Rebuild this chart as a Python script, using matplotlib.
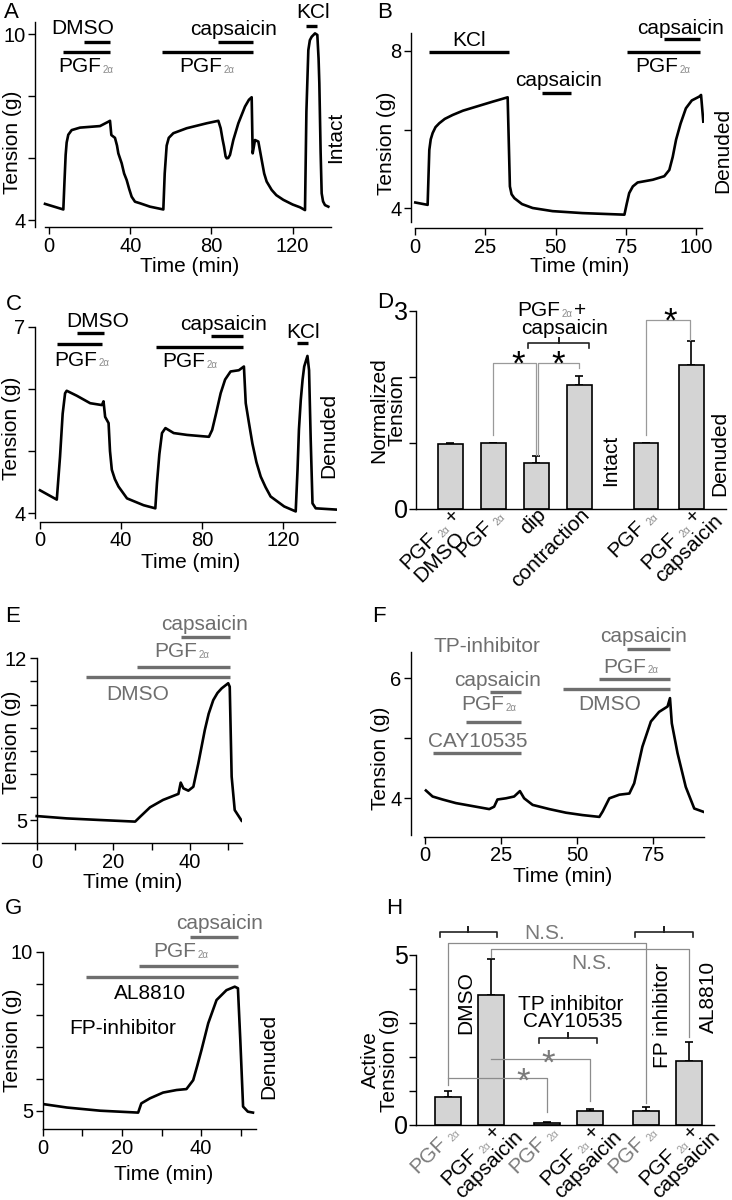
import matplotlib.pyplot as plt
import matplotlib.transforms as mtransforms
from matplotlib.lines import Line2D
import numpy as np

plt.rcParams['font.family'] = ['Liberation Sans', 'DejaVu Sans']
plt.rcParams['mathtext.fontset'] = 'custom'
plt.rcParams['mathtext.rm'] = 'Liberation Sans'
plt.rcParams['mathtext.it'] = 'Liberation Sans:italic'
plt.rcParams['mathtext.default'] = 'regular'
plt.rcParams['axes.linewidth'] = 1.0

# ---------------- data ----------------
# A  intact ring: (time min, tension g)
a_trace = [(-1.97, 4.52), (7.06, 4.34), (7.6, 5.2), (8.2, 6.1), (8.7, 6.5), (9.5, 6.75),
           (11.17, 6.9), (15.27, 6.98), (25.12, 7.03), (29.23, 7.17), (30.05, 7.2), (30.71, 6.74),
           (32.5, 6.65), (33.5, 6.4), (34.15, 6.15), (35.8, 5.83), (37.0, 5.5), (38.26, 5.29),
           (39.5, 5.0), (40.72, 4.75), (42.36, 4.59), (44.83, 4.54), (49.75, 4.43), (56.32, 4.34),
           (57.0, 5.5), (57.96, 6.4), (59.0, 6.65), (61.25, 6.8), (67.82, 6.96), (77.67, 7.12),
           (83.42, 7.2), (84.56, 6.96), (85.5, 6.6), (86.21, 6.37), (87.0, 6.05), (87.52, 5.99),
           (88.3, 6.0), (89.16, 6.1), (90.8, 6.58), (93.27, 7.12), (96.55, 7.66), (98.5, 7.88),
           (99.84, 7.96), (100.33, 6.15), (101.48, 6.58), (103.12, 6.53), (104.76, 5.94),
           (106.0, 5.5), (107.22, 5.24), (109.69, 4.97), (112.0, 4.8), (115.44, 4.65),
           (120.0, 4.5), (123.65, 4.41), (126.11, 4.32), (126.8, 7.5), (127.75, 9.48),
           (128.5, 9.8), (129.39, 9.91), (131.03, 10.02), (132.18, 9.97), (132.8, 9.2),
           (133.17, 8.41), (133.8, 6.2), (134.32, 4.86), (135.0, 4.6), (135.96, 4.48),
           (137.6, 4.43)]
a_drugs = [('DMSO', 17, 30), ('PGF', 6.7, 30), ('PGF', 55.8, 100.6),
           ('capsaicin', 83.4, 100.6), ('KCl', 126.6, 131.8)]

# B  denuded ring
b_trace = [(0, 4.14), (4.39, 4.08), (4.99, 5.48), (5.5, 5.75), (6.18, 5.91), (7.2, 6.06),
           (8.55, 6.16), (10.5, 6.27), (13.3, 6.37), (17.0, 6.48), (21.6, 6.58), (27.6, 6.71),
           (32.9, 6.82), (33.7, 4.55), (34.3, 4.35), (35.3, 4.25), (38.0, 4.1), (41.8, 4.0),
           (48.9, 3.92), (59.6, 3.87), (74.5, 3.83), (75.3, 4.1), (76.2, 4.38), (77.5, 4.55),
           (79.2, 4.65), (84.6, 4.72), (88.7, 4.81), (90.5, 4.97), (91.7, 5.3), (92.9, 5.74),
           (94.5, 6.15), (96.4, 6.54), (98.5, 6.74), (101.2, 6.84), (101.8, 6.88), (102.6, 6.2)]
b_drugs = [('KCl', 5.0, 33.5), ('capsaicin', 45.1, 55.5), ('PGF', 75.4, 101.5),
           ('capsaicin', 88.5, 101.5)]

# C  denuded ring
c_trace = [(0, 4.37), (8.3, 4.22), (9.9, 4.91), (11.2, 5.6), (12.4, 5.93), (13.2, 5.97),
           (18.2, 5.89), (24.8, 5.77), (30.6, 5.74), (31.4, 5.8), (32.2, 5.55), (33.9, 5.45),
           (34.6, 5.0), (35.5, 4.7), (37.0, 4.55), (38.8, 4.43), (43.0, 4.24), (51.2, 4.13),
           (57.0, 4.08), (57.8, 4.48), (59.0, 4.95), (60.3, 5.29), (62.0, 5.37), (66.1, 5.29),
           (72.7, 5.26), (83.5, 5.23), (85.1, 5.34), (87.0, 5.6), (89.3, 5.93), (91.5, 6.15),
           (94.2, 6.28), (98.3, 6.3), (100.8, 6.36), (101.7, 5.77), (103.3, 5.45), (105.0, 5.12),
           (107.0, 4.82), (109.1, 4.59), (111.5, 4.42), (114.0, 4.27), (120.7, 4.11),
           (126.4, 4.03), (127.3, 4.7), (128.0, 5.35), (128.9, 5.82), (129.8, 6.15),
           (130.6, 6.36), (132.2, 6.53), (133.0, 6.3), (133.8, 5.2), (134.7, 4.16),
           (136.3, 4.08), (146.3, 4.06)]
c_drugs = [('DMSO', 18.5, 31.7), ('PGF', 8.3, 30.6), ('PGF', 57.2, 100.5),
           ('capsaicin', 84.3, 100.5), ('KCl', 127, 132.6)]

# D  normalized tension
d_labels = ['PGF2α +\nDMSO', 'PGF2α', 'dip', 'contraction', 'PGF2α', 'PGF2α +\ncapsaicin']
d_mean = [0.985, 1.0, 0.69, 1.88, 1.0, 2.18]
d_err = [0.01, 0.0, 0.11, 0.135, 0.0, 0.355]

# E  DMSO control, denuded
e_trace = [(0, 5.17), (7.8, 5.07), (16.5, 5.0), (25.7, 4.93), (27.0, 5.14), (29.6, 5.55),
           (33.0, 5.87), (37.0, 6.13), (37.6, 6.62), (38.3, 6.37), (39.6, 6.27), (40.9, 6.44),
           (42.2, 7.45), (43.9, 8.9), (44.9, 9.6), (46.1, 10.19), (47.2, 10.5), (48.3, 10.7),
           (50.0, 10.92), (50.4, 10.77), (50.9, 6.88), (51.7, 5.43), (53.5, 4.97)]
e_drugs = [('DMSO', 13, 50.4), ('PGF', 26.1, 50.4), ('capsaicin', 37.6, 50.4)]

# F  TP inhibitor
f_trace = [(0.2, 4.13), (2.4, 4.03), (5.7, 3.98), (10.1, 3.92), (13.4, 3.89), (16.7, 3.86),
           (21.1, 3.82), (22.7, 3.86), (23.8, 3.98), (26.6, 4.0), (29.3, 4.03), (31.2, 4.12),
           (32.6, 4.0), (35.4, 3.89), (40.9, 3.82), (46.4, 3.76), (51.9, 3.72), (57.4, 3.69),
           (58.5, 3.78), (60.7, 4.0), (64.0, 4.06), (67.3, 4.08), (68.9, 4.25), (71.6, 4.86),
           (74.4, 5.28), (77.1, 5.44), (79.9, 5.53), (80.7, 5.67), (81.3, 5.25), (83.2, 4.75),
           (85.9, 4.19), (88.7, 3.83), (93.1, 3.75)]
f_drugs = [('CAY10535', 2.4, 31.5), ('PGF', 13.4, 31.5), ('capsaicin', 21.3, 31.5),
           ('DMSO', 45.3, 80.7), ('PGF', 57.4, 80.7), ('capsaicin', 66.4, 80.7)]

# G  FP inhibitor
g_trace = [(0, 5.21), (6.1, 5.1), (14.5, 5.0), (24.1, 4.94), (24.9, 5.23), (27.1, 5.39),
           (30.4, 5.57), (33.8, 5.65), (36.3, 5.68), (38.0, 5.96), (39.0, 6.4), (40.1, 6.91),
           (41.8, 7.75), (43.9, 8.48), (46.4, 8.79), (48.5, 8.9), (49.3, 8.85), (49.9, 7.22),
           (50.6, 5.13), (51.8, 4.97), (53.1, 4.94)]
g_drugs = [('AL8810', 10.9, 49.3), ('PGF', 24.4, 49.3), ('capsaicin', 37.3, 49.3)]

# H  active tension
h_labels = ['PGF2α', 'PGF2α +\ncapsaicin'] * 3
h_mean = [0.83, 3.82, 0.07, 0.42, 0.42, 1.88]
h_err = [0.17, 1.05, 0.01, 0.06, 0.10, 0.57]

# ---------------- layout ----------------
W, H = 732, 1200
FS = 15
GREY = '#6e6e6e'
fig = plt.figure(figsize=(W / 100, H / 100), dpi=100)
PX = mtransforms.Affine2D().scale(1, -1).translate(0, H)
renderer = fig.canvas.get_renderer()


def px_text(x, y, s, **kw):
    kw.setdefault('fontsize', FS)
    kw.setdefault('ha', 'center')
    kw.setdefault('va', 'center')
    return fig.text(x, y, s, transform=PX, **kw)


def trace_axes(xz, xs, yz, yref, ys, xlim, ylim):
    x0 = xz + xs * xlim[0]
    x1 = xz + xs * xlim[1]
    yt = yz - ys * (ylim[1] - yref)
    yb = yz - ys * (ylim[0] - yref)
    ax = fig.add_axes([x0 / W, 1 - yb / H, (x1 - x0) / W, (yb - yt) / H])
    ax.set_xlim(xlim)
    ax.set_ylim(ylim)
    ax.spines[['top', 'right']].set_visible(False)
    ax.tick_params(direction='out', length=5, width=1, labelsize=14.5, pad=2)
    ax.patch.set_alpha(0)
    return ax


def drug_bar(ax, t0, t1, y, color='k'):
    tr = mtransforms.blended_transform_factory(ax.transData, PX)
    ax.plot([t0, t1], [y, y], color=color, lw=2.4, transform=tr,
            clip_on=False, solid_capstyle='butt')


def pgf_label(ax, x, y, color='k', plus=False):
    t = px_text(x, y, 'PGF', color=color)
    ax.annotate('2α', xy=(1, 0), xycoords=t, xytext=(1, 1), textcoords='offset points',
                fontsize=7, color='#8a8a8a', ha='left', va='bottom', annotation_clip=False)
    if plus:
        ax.annotate('+', xy=(1, 0.55), xycoords=t, xytext=(10, 0), textcoords='offset points',
                    fontsize=FS, color=color, ha='left', va='center', annotation_clip=False)


def star(x, y, color='k', size=25):
    px_text(x, y + 0.57 * size * 100 / 72, '*', fontsize=size, va='baseline', color=color)


def brace(x0, x1, y, color='#222222', d=5):
    xm = (x0 + x1) / 2
    fig.add_artist(Line2D([x0, x0, xm, xm, xm, x1, x1], [y + d, y, y, y - d, y, y, y + d],
                          transform=PX, color=color, lw=1.2))


def trace(ax, pts):
    t, v = zip(*pts)
    ax.plot(t, v, color='k', lw=1.9, solid_joinstyle='round')


def text_width(s, size):
    tmp = fig.text(0, 0, s, fontsize=size)
    w = tmp.get_window_extent(renderer=renderer).width
    tmp.remove()
    return w


def line_parts(line, color, sub_color):
    # (text, size, color, shift down, gap before)
    if line.startswith('PGF2α'):
        parts = [('PGF', FS, color, 0, 0), ('2α', 7.5, sub_color, 2.5, 4)]
        rest = line[len('PGF2α'):].strip()
        if rest:
            parts.append((rest, FS, color, 0, 5))
        return parts
    return [(line, FS, color, 0, 0)]


def rot_ticklabels(ax, positions, labels, colors, sub_color, dx=11, dy=7, pitch=19):
    ang = np.deg2rad(45)
    ca, sa = np.cos(ang), np.sin(ang)
    for p, lab, col in zip(positions, labels, colors):
        xd, yd = ax.transData.transform((p, 0))
        rx, ry = xd + dx, (H - yd) + dy
        lines = lab.split('\n')
        first = line_parts(lines[0], col, sub_color)
        w1 = sum(g + text_width(t, s) for t, s, c, sh, g in first)
        sx, sy = rx - w1 * ca, ry + w1 * sa
        for k, line in enumerate(lines):
            bx, by = sx + k * pitch * sa, sy + k * pitch * ca
            off = 0
            for t, s, c, sh, g in line_parts(line, col, sub_color):
                off += g
                fig.text(bx + off * ca + sh * sa, by - off * sa + sh * ca, t, fontsize=s,
                         color=c, rotation=45, rotation_mode='anchor', ha='left',
                         va='baseline', transform=PX)
                off += text_width(t, s)


# ---------------- A ----------------
ax = trace_axes(49, 2.03, 220, 4, 31, (-6.9, 140), (3.77, 10.4))
trace(ax, a_trace)
ax.spines['bottom'].set_bounds(-2, 139)
ax.set_yticks([4, 6, 8, 10], ['4', '', '', '10'])
ax.set_xticks([0, 40, 80, 120])
for (name, t0, t1), y in zip(a_drugs, [41.7, 51.7, 51.7, 41.7, 25.7]):
    drug_bar(ax, t0, t1, y)
px_text(82.3, 28.3, 'DMSO')
pgf_label(ax, 79.3, 66.7)
px_text(233.3, 29.3, 'capsaicin')
pgf_label(ax, 200.7, 66.7)
px_text(313, 12.5, 'KCl')
px_text(336, 137.3, 'Intact', rotation=90)
px_text(13, 142, 'Tension (g)', rotation=90)
px_text(190, 267, 'Time (min)')
px_text(11, 13, 'A', fontsize=16)

# ---------------- B ----------------
ax = trace_axes(415.3, 2.807, 208, 4, 39.25, (-1.53, 103), (3.49, 8.45))
trace(ax, b_trace)
ax.spines['bottom'].set_bounds(0, 102)
ax.spines['left'].set_bounds(3.65, 8.45)
ax.set_yticks([4, 6, 8], ['4', '', '8'])
ax.set_xticks([0, 25, 50, 75, 100])
for (name, t0, t1), y in zip(b_drugs, [51.7, 92.7, 51.7, 39.3]):
    drug_bar(ax, t0, t1, y)
px_text(469.3, 40, 'KCl')
px_text(558.3, 80.7, 'capsaicin')
px_text(681, 28.3, 'capsaicin')
pgf_label(ax, 656.7, 66.7)
px_text(722.7, 150, 'Denuded', rotation=90)
px_text(386, 143, 'Tension (g)', rotation=90)
px_text(580, 267, 'Time (min)')
px_text(385, 12, 'B', fontsize=16)

# ---------------- C ----------------
ax = trace_axes(40, 2.023, 513.3, 4, 62.2, (-2.47, 147), (3.865, 7.03))
trace(ax, c_trace)
ax.spines['bottom'].set_bounds(0, 146)
ax.spines['left'].set_bounds(3.92, 7.0)
ax.set_yticks([4, 5, 6, 7], ['4', '', '', '7'])
ax.set_xticks([0, 40, 80, 120])
for (name, t0, t1), y in zip(c_drugs, [332.7, 344, 347.3, 336, 343.3]):
    drug_bar(ax, t0, t1, y)
px_text(97.3, 321.7, 'DMSO')
pgf_label(ax, 75.7, 360)
px_text(223.3, 325, 'capsaicin')
pgf_label(ax, 184, 361.7)
px_text(303, 332.3, 'KCl')
px_text(329, 435, 'Denuded', rotation=90)
px_text(12, 428, 'Tension (g)', rotation=90)
px_text(191, 563, 'Time (min)')
px_text(14, 304, 'C', fontsize=16)

# ---------------- D ----------------
d_pos = [0, 1, 2, 3, 4.55, 5.6]
axd = fig.add_axes([416 / W, 1 - 509 / H, (726 - 416) / W, (509 - 310.7) / H])
axd.set_xlim(-0.80, 6.41)
axd.set_ylim(0, 3)
axd.patch.set_alpha(0)
axd.spines[['top', 'right']].set_visible(False)
axd.bar(d_pos, d_mean, width=0.58, color='#d4d4d4', edgecolor='k', lw=1.2, zorder=2)
axd.errorbar(d_pos, d_mean, yerr=[[0] * 6, d_err], fmt='none', ecolor='k',
             elinewidth=1.2, capsize=3, capthick=1.2, zorder=1)
axd.set_yticks([0, 1, 2, 3], ['0', '', '', '3'])
axd.tick_params(axis='y', direction='out', length=5, width=1, labelsize=18, pad=1)
axd.set_xticks(d_pos, [''] * 6)
axd.tick_params(axis='x', length=0)
rot_ticklabels(axd, d_pos, d_labels, ['k'] * 6, '#8a8a8a')
gl = dict(color='#9a9a9a', lw=0.9, clip_on=False, zorder=3)
axd.plot([d_pos[1], d_pos[1], 1.99, 1.99], [1.12, 2.21, 2.21, 0.82], **gl)
axd.plot([2.03, 2.03, d_pos[3], d_pos[3]], [0.82, 2.21, 2.21, 2.13], **gl)
axd.plot([d_pos[4], d_pos[4], d_pos[5] - 0.03, d_pos[5] - 0.03], [1.12, 2.86, 2.86, 2.56], **gl)
star(517.7, 355)
star(557.7, 355)
star(670, 312.3)
brace(528.3, 589.3, 342.7)
pgf_label(axd, 539, 311, plus=True)
px_text(565, 328.3, 'capsaicin')
px_text(611, 460, 'Intact', rotation=90)
px_text(719.3, 453.3, 'Denuded', rotation=90)
px_text(387.5, 410, 'Normalized\nTension', rotation=90, linespacing=0.95)
px_text(385, 302, 'D', fontsize=16)

# ---------------- E ----------------
ax = trace_axes(36.7, 3.83, 820, 5, 23.1, (-9.1, 53.5), (3.99, 12))
trace(ax, e_trace)
ax.spines['left'].set_position(('data', 0))
ax.set_yticks(range(5, 13), ['5', '', '', '', '', '', '', '12'])
ax.set_xticks(range(0, 51, 10), ['0', '', '20', '', '40', ''])
for (name, t0, t1), y in zip(e_drugs, [677.3, 666.7, 637.3]):
    drug_bar(ax, t0, t1, y, color=GREY)
px_text(138, 694, 'DMSO', color=GREY)
pgf_label(ax, 175.7, 651.7, color=GREY)
px_text(205, 625, 'capsaicin', color=GREY)
px_text(12, 742, 'Tension (g)', rotation=90)
px_text(133, 883, 'Time (min)')
px_text(12.5, 616, 'E', fontsize=16)

# ---------------- F ----------------
ax = trace_axes(425.3, 3.032, 798.3, 4, 60, (-4.72, 92), (3.36, 6.44))
trace(ax, f_trace)
ax.spines['bottom'].set_bounds(-0.3, 92)
ax.spines['left'].set_bounds(3.39, 6.44)
ax.set_yticks([4, 5, 6], ['4', '', '6'])
ax.set_xticks([0, 25, 50, 75])
for (name, t0, t1), y in zip(f_drugs, [752.7, 721.7, 691.7, 689.3, 679.3, 649.3]):
    drug_bar(ax, t0, t1, y, color=GREY)
px_text(486.7, 646.7, 'TP-inhibitor', color=GREY)
px_text(497.7, 680.7, 'capsaicin', color=GREY)
pgf_label(ax, 482.7, 705, color=GREY)
px_text(477.7, 741.7, 'CAY10535', color=GREY)
px_text(643.7, 636.7, 'capsaicin', color=GREY)
pgf_label(ax, 625, 667.3, color=GREY)
px_text(610, 705, 'DMSO', color=GREY)
px_text(381, 758, 'Tension (g)', rotation=90)
px_text(562.7, 877, 'Time (min)')
px_text(379, 617, 'F', fontsize=16)

# ---------------- G ----------------
ax = trace_axes(42.7, 3.96, 1110.7, 5, 31.8, (0, 53.9), (4.415, 10))
trace(ax, g_trace)
ax.set_yticks(range(5, 11), ['5', '', '', '', '', '10'])
ax.set_xticks(range(0, 51, 10), ['0', '', '20', '', '40', ''])
for (name, t0, t1), y in zip(g_drugs, [977.3, 966, 937.3]):
    drug_bar(ax, t0, t1, y, color=GREY)
px_text(220, 923.3, 'capsaicin', color=GREY)
pgf_label(ax, 175, 951.7, color=GREY)
px_text(150, 993.3, 'AL8810')
px_text(122.3, 1028.3, 'FP-inhibitor')
px_text(268.7, 1056.7, 'Denuded', rotation=90)
px_text(13, 1040, 'Tension (g)', rotation=90)
px_text(163.3, 1175, 'Time (min)')
px_text(13, 908, 'G', fontsize=16)

# ---------------- H ----------------
h_pos = [0, 1, 2.3, 3.3, 4.6, 5.6]
axh = fig.add_axes([416 / W, 1 - 1125 / H, (714.3 - 416) / W, (1125 - 955) / H])
axh.set_xlim(-0.75, 6.19)
axh.set_ylim(0, 5)
axh.patch.set_alpha(0)
axh.spines[['top', 'right']].set_visible(False)
axh.bar(h_pos, h_mean, width=0.6, color='#d4d4d4', edgecolor='k', lw=1.2, zorder=2)
axh.errorbar(h_pos, h_mean, yerr=[[0] * 6, h_err], fmt='none', ecolor='k',
             elinewidth=1.2, capsize=3, capthick=1.2, zorder=1)
axh.set_yticks(range(0, 6), ['0', '', '', '', '', '5'])
axh.tick_params(axis='y', direction='out', length=5, width=1, labelsize=18, pad=1)
axh.set_xticks(h_pos, [''] * 6)
axh.tick_params(axis='x', length=0)
rot_ticklabels(axh, h_pos, h_labels, ['#7a7a7a', 'k'] * 3, '#9a9a9a')
gh = dict(color='#8c8c8c', lw=0.9, clip_on=False, zorder=3)
axh.plot([h_pos[0], h_pos[0], h_pos[4], h_pos[4]], [1.18, 5.34, 5.34, 0.64], **gh)
axh.plot([h_pos[1], h_pos[1], h_pos[5], h_pos[5]], [4.95, 5.17, 5.17, 2.6], **gh)
axh.plot([h_pos[0], h_pos[2], h_pos[2]], [1.37, 1.37, 0.39], **gh)
axh.plot([h_pos[1], h_pos[3], h_pos[3]], [1.93, 1.93, 0.72], **gh)
px_text(544.3, 933.3, 'N.S.', color='#7a7a7a')
px_text(591.7, 963.3, 'N.S.', color='#7a7a7a')
star(522.7, 1071.7, color='#7a7a7a')
star(547.7, 1054, color='#7a7a7a')
brace(440, 496.7, 931.7)
brace(635.3, 693.3, 931.7)
brace(539.3, 596.7, 1038.3)
px_text(466, 1003, 'DMSO', rotation=90)
px_text(571, 1005, 'TP inhibitor')
px_text(572.7, 1021.7, 'CAY10535')
px_text(662, 1015, 'FP inhibitor', rotation=90)
px_text(708.3, 997.3, 'AL8810', rotation=90)
px_text(380, 1060, 'Active\nTension (g)', rotation=90, linespacing=0.95)
px_text(394, 908, 'H', fontsize=16)

fig.savefig('out.png', dpi=100)
